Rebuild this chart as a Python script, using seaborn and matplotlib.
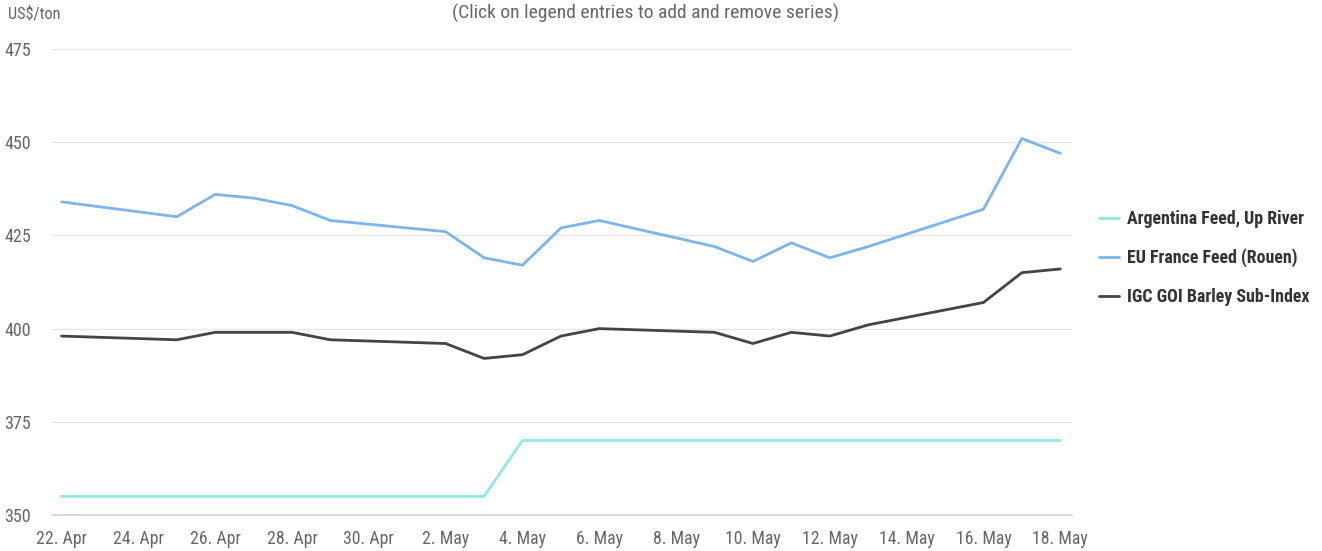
import pandas as pd
import matplotlib.pyplot as plt
import matplotlib.dates as mdates
import seaborn as sns

# trading days
dates = ['2022-04-22', '2022-04-25', '2022-04-26', '2022-04-27', '2022-04-28', '2022-04-29',
         '2022-05-02', '2022-05-03', '2022-05-04', '2022-05-05', '2022-05-06', '2022-05-09',
         '2022-05-10', '2022-05-11', '2022-05-12', '2022-05-13', '2022-05-16', '2022-05-17',
         '2022-05-18']
argentina = [355, 355, 355, 355, 355, 355, 355, 355, 370, 370, 370, 370, 370, 370, 370, 370, 370, 370, 370]
eu_france = [434, 430, 436, 435, 433, 429, 426, 419, 417, 427, 429, 422, 418, 423, 419, 422, 432, 451, 447]
igc_goi = [398, 397, 399, 399, 399, 397, 396, 392, 393, 398, 400, 399, 396, 399, 398, 401, 407, 415, 416]

series_names = ['Argentina Feed, Up River', 'EU France Feed (Rouen)', 'IGC GOI Barley Sub-Index']
colors = ['#91e8e1', '#7cb5ec', '#434348']
y_ticks = [350, 375, 400, 425, 450, 475]

df = pd.DataFrame({
    'date': pd.to_datetime(dates * 3),
    'price': argentina + eu_france + igc_goi,
    'series': [series_names[0]] * len(dates) + [series_names[1]] * len(dates) + [series_names[2]] * len(dates),
})

sns.set_style('white')
plt.rcParams['font.family'] = ['Roboto Condensed', 'DejaVu Sans Condensed', 'Liberation Sans Narrow',
                               'Lato', 'DejaVu Sans']

fig = plt.figure(figsize=(13.22, 5.51), dpi=100)
ax = fig.add_axes([0.0393, 0.0653, 0.7718, 0.8458])

sns.lineplot(data=df, x='date', y='price', hue='series', palette=colors,
             linewidth=2, ax=ax, legend=True)

ax.set_ylim(350, 475)
ax.set_xlim(pd.Timestamp('2022-04-21 18:00'), pd.Timestamp('2022-05-18 07:30'))
ax.set_yticks(y_ticks)
ax.set_xticks(pd.date_range('2022-04-22', '2022-05-18', freq='2D'))
ax.xaxis.set_major_formatter(mdates.DateFormatter('%-d. %b'))
ax.grid(axis='y', color='#e6e6e6', linewidth=1)
ax.set_axisbelow(True)
ax.set_xlabel('')
ax.set_ylabel('')

for s in ['top', 'right', 'left']:
    ax.spines[s].set_visible(False)
ax.spines['bottom'].set_color('#ccd6eb')
ax.spines['bottom'].set_linewidth(1.2)
ax.tick_params(axis='x', colors='#666666', length=7, width=1, color='#ccd6eb', labelsize=12.8, pad=4)
ax.tick_params(axis='y', colors='#666666', length=0, labelsize=13, pad=15)

fig.text(0.006, 0.975, 'US$/ton', fontsize=11.8, color='#666666', va='center')
fig.text(0.488, 0.975, '(Click on legend entries to add and remove series)', fontsize=14,
         color='#666666', ha='center', va='center')

handles, labels = ax.get_legend_handles_labels()
ax.legend_.remove()
leg = fig.legend(handles, labels, loc='center left', bbox_to_anchor=(0.819, 0.532),
                 frameon=False, handlelength=1.1, handletextpad=0.45, labelspacing=1.15,
                 prop={'size': 12.9, 'weight': 'bold'})
for t in leg.get_texts():
    t.set_color('#333333')

plt.savefig('out.png', dpi=100)
